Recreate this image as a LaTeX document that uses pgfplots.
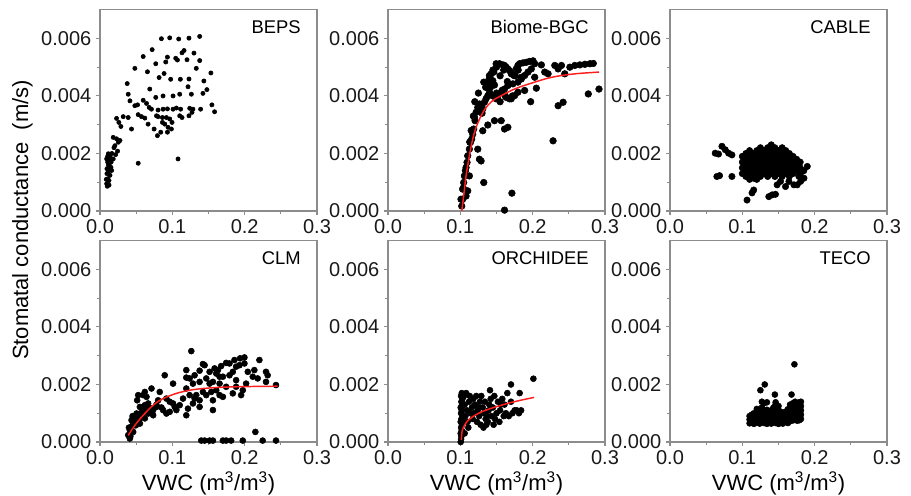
\documentclass[border=0pt]{standalone}
\usepackage{pgfplots}
\pgfplotsset{compat=1.18}
\usepackage{fontspec}
\setmainfont{Liberation Sans}
\definecolor{framegray}{HTML}{8C8C8C}
\definecolor{fitred}{HTML}{FF1E1E}

\pgfplotsset{
  panel/.style={
    scale only axis, width=162.75pt, height=151pt, anchor=south west,
    xmin=0, xmax=0.3, ymin=0, ymax=0.007,
    xtick={0,0.1,0.2,0.3}, xticklabels={0.0,0.1,0.2,0.3},
    ytick={0,0.002,0.004,0.006}, yticklabels={0.000,0.002,0.004,0.006},
    minor x tick num=1, minor y tick num=1,
    scaled ticks=false,
    tick pos=left, tick align=outside,
    major tick length=3pt, minor tick length=2pt,
    axis line style={framegray, line width=0.8pt},
    every tick/.style={framegray, line width=0.8pt},
    tick label style={font=\fontsize{15}{15}\selectfont, text=black!90},
    xlabel style={font=\fontsize{16.5}{17}\selectfont, yshift=2pt},
  },
  % a bare copy of a panel, laid over it, so the fitted curve sits above the dots
  overlay/.style={panel, hide axis},
  dots/.style={only marks, mark=*, mark size=#1, mark options={fill=black, draw=black}},
  fit/.style={fitred, line width=1.1pt, no markers, smooth},
}
\newcommand{\paneltitle}[1]{\node[anchor=north east, inner sep=0pt, font=\fontsize{13.8}{14}\selectfont] at (rel axis cs:1,1) [xshift=-12pt, yshift=-8pt] {#1};}

\begin{document}
\begin{tikzpicture}
\useasboundingbox (0,0) rectangle (683.25pt,372pt);

% ---- BEPS
\begin{axis}[panel, at={(75pt,213.75pt)}]
\addplot[dots=1.6pt] coordinates {
(0.0849,0.00599) (0.0964,0.00602) (0.1088,0.00598) (0.1230,0.00601) (0.1378,0.00607)
(0.0721,0.00561) (0.0597,0.00537) (0.0771,0.00512) (0.0932,0.00535) (0.0909,0.00518)
(0.1047,0.00531) (0.1070,0.00525) (0.1134,0.00550) (0.1162,0.00558) (0.1299,0.00549)
(0.1203,0.00526) (0.1378,0.00523) (0.0482,0.00496) (0.0656,0.00484) (0.0886,0.00478)
(0.0817,0.00464) (0.0977,0.00458) (0.1111,0.00458) (0.1230,0.00459) (0.1331,0.00496)
(0.1533,0.00480) (0.1436,0.00452) (0.1217,0.00432) (0.1478,0.00422) (0.0376,0.00443)
(0.0688,0.00424) (0.0390,0.00406) (0.0771,0.00395) (0.0872,0.00400) (0.1010,0.00400)
(0.1102,0.00406) (0.1263,0.00406) (0.1423,0.00409) (0.0414,0.00383) (0.0482,0.00366)
(0.0519,0.00369) (0.0597,0.00385) (0.0643,0.00374) (0.0680,0.00360) (0.0711,0.00354)
(0.0803,0.00351) (0.0872,0.00354) (0.0932,0.00355) (0.1010,0.00354) (0.1056,0.00358)
(0.1115,0.00354) (0.1240,0.00357) (0.1285,0.00354) (0.1391,0.00354) (0.1547,0.00369)
(0.1584,0.00345) (0.0229,0.00322) (0.0261,0.00308) (0.0321,0.00328) (0.0390,0.00325)
(0.0289,0.00294) (0.0436,0.00285) (0.0528,0.00335) (0.0574,0.00328) (0.0620,0.00323)
(0.0781,0.00331) (0.0803,0.00328) (0.0863,0.00325) (0.0918,0.00325) (0.0964,0.00320)
(0.0996,0.00308) (0.1102,0.00331) (0.1134,0.00325) (0.1230,0.00331) (0.1272,0.00343)
(0.0665,0.00302) (0.0748,0.00285) (0.0863,0.00308) (0.0896,0.00302) (0.0941,0.00291)
(0.0987,0.00285) (0.0794,0.00262) (0.0840,0.00274) (0.0932,0.00274) (0.0183,0.00256)
(0.0229,0.00251) (0.0253,0.00239) (0.0206,0.00227) (0.0276,0.00245) (0.0115,0.00199)
(0.0138,0.00189) (0.0183,0.00181) (0.0216,0.00196) (0.0243,0.00208) (0.0528,0.00166)
(0.1079,0.00181) (0.0092,0.00181) (0.0106,0.00170) (0.0124,0.00162) (0.0151,0.00152)
(0.0096,0.00147) (0.0115,0.00135) (0.0138,0.00124) (0.0106,0.00112) (0.0124,0.00106)
(0.0092,0.00095) (0.0101,0.00086) (0.0161,0.00141) (0.0138,0.00176)
(0.0096,0.0013) (0.0116,0.0016) (0.0106,0.0019) (0.0135,0.0015) (0.0087,0.0011)
(0.0125,0.0009) (0.0145,0.0018) (0.0164,0.0020) (0.0193,0.0022) (0.0154,0.0017)
};
\paneltitle{BEPS}
\end{axis}

% ---- Biome-BGC
\begin{axis}[panel, at={(291pt,213.75pt)}]
\addplot[dots=2.5pt] coordinates {
(0.1019,0.00017) (0.1009,0.00041) (0.1032,0.00076) (0.1046,0.00099) (0.1056,0.00122)
(0.1079,0.00151) (0.1093,0.00169) (0.1102,0.00192) (0.1125,0.00215) (0.1139,0.00238)
(0.1157,0.00250) (0.1171,0.00267) (0.1185,0.00285) (0.1204,0.00314) (0.1194,0.00326)
(0.1218,0.00343) (0.1241,0.00360) (0.1264,0.00372) (0.1287,0.00366) (0.1250,0.00349)
(0.1310,0.00355) (0.1333,0.00378) (0.1356,0.00390) (0.1380,0.00401) (0.1403,0.00413)
(0.1417,0.00430) (0.1324,0.00448) (0.1380,0.00442) (0.1449,0.00453) (0.1472,0.00438)
(0.1426,0.00477) (0.1403,0.00471) (0.1463,0.00483) (0.1495,0.00512) (0.1542,0.00512)
(0.1588,0.00508) (0.1611,0.00506) (0.1634,0.00500) (0.1657,0.00494) (0.1681,0.00488)
(0.1704,0.00477) (0.1741,0.00471) (0.1773,0.00494) (0.1796,0.00506) (0.1819,0.00512)
(0.1866,0.00515) (0.1912,0.00517) (0.1958,0.00520) (0.2005,0.00522) (0.2028,0.00512)
(0.1981,0.00494) (0.1935,0.00483) (0.1889,0.00471) (0.1843,0.00459) (0.1796,0.00448)
(0.1727,0.00442) (0.1657,0.00436) (0.1611,0.00424) (0.1565,0.00413) (0.1519,0.00401)
(0.1495,0.00390) (0.1634,0.00395) (0.1704,0.00390) (0.1750,0.00401) (0.1796,0.00413)
(0.1843,0.00465) (0.1889,0.00419) (0.2028,0.00465) (0.2051,0.00427) (0.2120,0.00508)
(0.2167,0.00483) (0.2213,0.00477) (0.2306,0.00506) (0.2352,0.00494) (0.2398,0.00506)
(0.2444,0.00477) (0.2514,0.00500) (0.2583,0.00506) (0.2653,0.00508) (0.2722,0.00510)
(0.2792,0.00512) (0.2838,0.00513) (0.2769,0.00407) (0.2917,0.00424) (0.2421,0.00378)
(0.2352,0.00366) (0.1972,0.00380) (0.2282,0.00244) (0.1657,0.00291) (0.1611,0.00285)
(0.1565,0.00314) (0.1472,0.00314) (0.1380,0.00299) (0.1310,0.00279) (0.1241,0.00215)
(0.1264,0.00180) (0.1287,0.00174) (0.1324,0.00099) (0.1713,0.00062) (0.1611,0.00003)
(0.1125,0.00122) (0.1102,0.00070) (0.1079,0.00052)
(0.145,0.0040) (0.150,0.0041) (0.155,0.0038) (0.158,0.0042) (0.162,0.0040)
(0.168,0.0039) (0.172,0.0040) (0.176,0.0047) (0.180,0.0049) (0.165,0.0045)
(0.155,0.0047) (0.160,0.0049) (0.150,0.0050) (0.145,0.0049) (0.140,0.0046)
(0.135,0.0043) (0.125,0.0041) (0.120,0.0038) (0.130,0.0034) (0.118,0.0033)
(0.115,0.0028) (0.113,0.0024) (0.107,0.0014) (0.104,0.0008) (0.103,0.0004)
};
\paneltitle{Biome-BGC}
\end{axis}
\begin{axis}[overlay, at={(291pt,213.75pt)}]
\addplot[fit] coordinates {
(0.1019,0) (0.1046,0.00052) (0.1079,0.00122) (0.1125,0.00192) (0.1171,0.00250)
(0.1218,0.00291) (0.1287,0.00331) (0.1356,0.00360) (0.1449,0.00384) (0.1565,0.00401)
(0.1704,0.00419) (0.1843,0.00433) (0.2028,0.00448) (0.2213,0.00462) (0.2398,0.00471)
(0.2630,0.00478) (0.2917,0.00483)
};
\end{axis}

% ---- CABLE
\begin{axis}[panel, at={(502.5pt,213.75pt)}]
\addplot[dots=2.4pt] coordinates {
(0.0625,0.00201) (0.0671,0.00198) (0.0718,0.00225) (0.0764,0.00213) (0.0810,0.00201)
(0.0856,0.00195) (0.0648,0.00120) (0.0685,0.00123) (0.0856,0.00120)
(0.1065,0.00038) (0.1157,0.00073) (0.1134,0.00063) (0.1366,0.00050) (0.1412,0.00056)
(0.1458,0.00058) (0.1157,0.00114) (0.1481,0.00091) (0.1528,0.00103) (0.1644,0.00103)
(0.1713,0.00091) (0.1759,0.00091) (0.1806,0.00103) (0.1852,0.00114) (0.1898,0.00155)
(0.1829,0.00138) (0.1782,0.00120) (0.1597,0.00085)
(0.100,0.0013) (0.100,0.0015) (0.100,0.0017) (0.100,0.0019)
(0.105,0.0012) (0.105,0.0014) (0.105,0.0016) (0.105,0.0018) (0.105,0.0020)
(0.110,0.0011) (0.110,0.0013) (0.110,0.0015) (0.110,0.0017) (0.110,0.0019) (0.110,0.0021)
(0.115,0.0012) (0.115,0.0014) (0.115,0.0016) (0.115,0.0018) (0.115,0.0020)
(0.120,0.0011) (0.120,0.0013) (0.120,0.0015) (0.120,0.0017) (0.120,0.0019) (0.120,0.0021)
(0.125,0.0012) (0.125,0.0014) (0.125,0.0016) (0.125,0.0018) (0.125,0.0020) (0.125,0.0022)
(0.130,0.0013) (0.130,0.0015) (0.130,0.0017) (0.130,0.0019) (0.130,0.0021)
(0.135,0.0012) (0.135,0.0014) (0.135,0.0016) (0.135,0.0018) (0.135,0.0020) (0.135,0.0022)
(0.140,0.0013) (0.140,0.0015) (0.140,0.0017) (0.140,0.0019) (0.140,0.0021) (0.140,0.0023)
(0.145,0.0012) (0.145,0.0014) (0.145,0.0016) (0.145,0.0018) (0.145,0.0020) (0.145,0.0022)
(0.150,0.0013) (0.150,0.0015) (0.150,0.0017) (0.150,0.0019) (0.150,0.0021)
(0.155,0.0012) (0.155,0.0014) (0.155,0.0016) (0.155,0.0018) (0.155,0.0020) (0.155,0.0022)
(0.160,0.0013) (0.160,0.0015) (0.160,0.0017) (0.160,0.0019) (0.160,0.0021)
(0.165,0.0012) (0.165,0.0014) (0.165,0.0016) (0.165,0.0018) (0.165,0.0020)
(0.170,0.0013) (0.170,0.0015) (0.170,0.0017) (0.170,0.0019)
(0.175,0.0014) (0.175,0.0016) (0.175,0.0018)
(0.180,0.0013) (0.180,0.0015) (0.180,0.0017) (0.185,0.0014)
};
\paneltitle{CABLE}
\end{axis}

% ---- CLM
\begin{axis}[panel, at={(75pt,40.5pt)}, xlabel={VWC (m\textsuperscript{3}/m\textsuperscript{3})}]
\addplot[dots=2.25pt] coordinates {
(0.1262,0.00316) (0.1997,0.00294) (0.1937,0.00291) (0.1859,0.00285) (0.1790,0.00273)
(0.1744,0.00275) (0.1675,0.00264) (0.1630,0.00250) (0.1584,0.00256) (0.1515,0.00244)
(0.1446,0.00267) (0.1423,0.00271) (0.1377,0.00248) (0.1308,0.00232) (0.1239,0.00221)
(0.1193,0.00224) (0.1193,0.00250) (0.1607,0.00238) (0.1699,0.00227) (0.1790,0.00232)
(0.1836,0.00244) (0.1882,0.00262) (0.1928,0.00267) (0.1997,0.00273) (0.2134,0.00250)
(0.2295,0.00244) (0.2318,0.00232) (0.2295,0.00209) (0.2433,0.00198) (0.2180,0.00221)
(0.2020,0.00203) (0.1974,0.00180) (0.1951,0.00163) (0.1836,0.00169) (0.1744,0.00192)
(0.1653,0.00203) (0.1561,0.00209) (0.1469,0.00221) (0.1377,0.00209) (0.1285,0.00203)
(0.1193,0.00186) (0.1239,0.00163) (0.1308,0.00151) (0.1377,0.00145) (0.1469,0.00163)
(0.1538,0.00174) (0.1607,0.00180) (0.1653,0.00163) (0.1699,0.00157) (0.1561,0.00145)
(0.1377,0.00122) (0.1285,0.00134) (0.1216,0.00116) (0.1193,0.00093) (0.1102,0.00128)
(0.1056,0.00111) (0.1010,0.00134) (0.0964,0.00140) (0.0918,0.00151) (0.1010,0.00203)
(0.0895,0.00232) (0.0826,0.00174) (0.0803,0.00145) (0.0780,0.00122) (0.0735,0.00111)
(0.0712,0.00186) (0.0620,0.00174) (0.0597,0.00163) (0.0643,0.00157) (0.0528,0.00163)
(0.0514,0.00145) (0.0551,0.00122) (0.0620,0.00128) (0.0666,0.00134) (0.0698,0.00116)
(0.0597,0.00111) (0.0574,0.00093) (0.0542,0.00076) (0.0505,0.00099) (0.0482,0.00082)
(0.0459,0.00064) (0.0436,0.00053) (0.0413,0.00041) (0.0459,0.00035) (0.0390,0.00024)
(0.0413,0.00012) (0.0436,0.00076) (0.0496,0.00058) (0.0551,0.00064) (0.0620,0.00082)
(0.0666,0.00099) (0.0735,0.00093) (0.0872,0.00111) (0.0918,0.00099) (0.0964,0.00105)
(0.1033,0.00122) (0.1331,0.00163) (0.1423,0.00174) (0.1148,0.00151) (0.1515,0.00203)
(0.1882,0.00215) (0.2043,0.00244) (0.2112,0.00227) (0.2204,0.00285) (0.1653,0.00227)
(0.1882,0.00192) (0.1561,0.00111)
(0.042,0.0002) (0.044,0.0004) (0.047,0.0006) (0.050,0.0007) (0.053,0.0009)
(0.056,0.0010) (0.058,0.0012) (0.065,0.0011) (0.068,0.0012) (0.072,0.0010)
(0.078,0.0013) (0.085,0.0012) (0.045,0.0009) (0.040,0.0005)
(0.1400,0.00005) (0.1446,0.00005) (0.1515,0.00005) (0.1561,0.00005) (0.1699,0.00005)
(0.1744,0.00005) (0.1813,0.00005) (0.1974,0.00005) (0.2148,0.00035) (0.2249,0.00005)
(0.2433,0.00005)
};
\paneltitle{CLM}
\end{axis}
\begin{axis}[overlay, at={(75pt,40.5pt)}]
\addplot[fit] coordinates {
(0.0390,0.00023) (0.0482,0.00058) (0.0597,0.00093) (0.0735,0.00128) (0.0872,0.00151)
(0.1056,0.00169) (0.1240,0.00180) (0.1423,0.00186) (0.1653,0.00190) (0.1883,0.00192)
(0.2112,0.00193) (0.2456,0.00194)
};
\end{axis}

% ---- ORCHIDEE
\begin{axis}[panel, at={(291pt,40.5pt)}, xlabel={VWC (m\textsuperscript{3}/m\textsuperscript{3})}]
\addplot[dots=2.25pt] coordinates {
(0.1005,0.0000) (0.1010,0.0001) (0.1015,0.0002) (0.1005,0.0003) (0.1020,0.0004)
(0.1010,0.0005) (0.1025,0.0006) (0.1005,0.0007) (0.1015,0.0008) (0.1030,0.0009)
(0.1010,0.0010) (0.1020,0.0011) (0.1005,0.0012) (0.1025,0.0013) (0.1015,0.0014)
(0.1030,0.0015) (0.1010,0.0016) (0.1020,0.0017)
(0.105,0.0016) (0.108,0.0017) (0.106,0.0013) (0.109,0.0011) (0.107,0.0009)
(0.110,0.0007) (0.112,0.0014) (0.114,0.0010) (0.116,0.0012) (0.113,0.0016)
(0.118,0.0015) (0.120,0.0013) (0.122,0.0016) (0.124,0.0011) (0.126,0.0009)
(0.127,0.0014) (0.129,0.0016) (0.131,0.0012) (0.133,0.0010) (0.135,0.0008)
(0.136,0.0006) (0.138,0.0007) (0.139,0.0011) (0.140,0.0013) (0.141,0.0018)
(0.143,0.0009) (0.145,0.0012) (0.147,0.0016) (0.148,0.0008) (0.150,0.0010)
(0.152,0.0014) (0.154,0.0007) (0.156,0.0013) (0.158,0.0015) (0.160,0.0009)
(0.163,0.0010) (0.165,0.0017) (0.167,0.0009) (0.170,0.0014) (0.172,0.0010)
(0.175,0.0011) (0.178,0.0011) (0.181,0.0010) (0.184,0.0011) (0.170,0.0020)
(0.182,0.0017) (0.201,0.0022) (0.117,0.0008) (0.123,0.0007) (0.128,0.0006)
(0.132,0.0005) (0.137,0.0009) (0.146,0.0006) (0.142,0.0015) (0.119,0.0010)
(0.111,0.0005) (0.104,0.0007) (0.106,0.0003) (0.125,0.0012) (0.134,0.0014)
(0.155,0.0011) (0.161,0.0013)
};
\paneltitle{ORCHIDEE}
\end{axis}
\begin{axis}[overlay, at={(291pt,40.5pt)}]
\addplot[fit] coordinates {
(0.1014,0.00007) (0.1018,0.00024) (0.1023,0.00036) (0.1046,0.00053) (0.1092,0.00071)
(0.1161,0.00086) (0.1253,0.00100) (0.1390,0.00114) (0.1528,0.00125) (0.1666,0.00135)
(0.1849,0.00146) (0.2020,0.00155)
};
\end{axis}

% ---- TECO
\begin{axis}[panel, at={(502.5pt,40.5pt)}, xlabel={VWC (m\textsuperscript{3}/m\textsuperscript{3})}]
\addplot[dots=2.25pt] coordinates {
(0.110,0.00065) (0.110,0.00078) (0.110,0.00090)
(0.113,0.00070) (0.113,0.00085) (0.113,0.00095)
(0.116,0.00063) (0.116,0.00075) (0.116,0.00088) (0.116,0.00100)
(0.120,0.00068) (0.120,0.00080) (0.120,0.00092) (0.120,0.00105) (0.120,0.00115)
(0.124,0.00064) (0.124,0.00076) (0.124,0.00088) (0.124,0.00098) (0.124,0.00110)
(0.127,0.00070) (0.127,0.00082) (0.127,0.00095) (0.127,0.00120) (0.127,0.00140)
(0.130,0.00066) (0.130,0.00078) (0.130,0.00090) (0.130,0.00102) (0.130,0.00135)
(0.134,0.00063) (0.134,0.00075) (0.134,0.00087) (0.134,0.00100) (0.134,0.00112)
(0.137,0.00068) (0.137,0.00080) (0.137,0.00092) (0.137,0.00104)
(0.140,0.00064) (0.140,0.00077) (0.140,0.00089) (0.140,0.00098) (0.140,0.00110)
(0.143,0.00070) (0.143,0.00082) (0.143,0.00095) (0.143,0.00108) (0.143,0.00120)
(0.146,0.00066) (0.146,0.00078) (0.146,0.00090) (0.146,0.00103) (0.146,0.00115) (0.146,0.00130)
(0.150,0.00063) (0.150,0.00075) (0.150,0.00087) (0.150,0.00099) (0.150,0.00112) (0.150,0.00125)
(0.153,0.00068) (0.153,0.00080) (0.153,0.00092) (0.153,0.00105)
(0.156,0.00064) (0.156,0.00076) (0.156,0.00088) (0.156,0.00098)
(0.160,0.00070) (0.160,0.00082) (0.160,0.00094) (0.160,0.00106)
(0.163,0.00066) (0.163,0.00078) (0.163,0.00090) (0.163,0.00102) (0.163,0.00114)
(0.166,0.00072) (0.166,0.00084) (0.166,0.00096) (0.166,0.00108) (0.166,0.00120) (0.166,0.00130)
(0.170,0.00075) (0.170,0.00088) (0.170,0.00100) (0.170,0.00112) (0.170,0.00125) (0.170,0.00135)
(0.173,0.00078) (0.173,0.00090) (0.173,0.00102) (0.173,0.00115) (0.173,0.00128) (0.173,0.00140)
(0.176,0.00074) (0.176,0.00086) (0.176,0.00098) (0.176,0.00110) (0.176,0.00122) (0.176,0.00135)
(0.179,0.00076) (0.179,0.00088) (0.179,0.00100) (0.179,0.00112) (0.179,0.00125) (0.179,0.00138)
(0.181,0.00080) (0.181,0.00095) (0.181,0.00110) (0.181,0.00125) (0.181,0.00140)
(0.172,0.0027) (0.131,0.0020) (0.125,0.0018) (0.145,0.00165) (0.168,0.00165)
(0.146,0.00138) (0.134,0.00138)
};
\paneltitle{TECO}
\end{axis}

\node[rotate=90, font=\fontsize{16.5}{17}\selectfont] at (16.9pt,207pt) {Stomatal conductance\ \ (m/s)};
\end{tikzpicture}
\end{document}
